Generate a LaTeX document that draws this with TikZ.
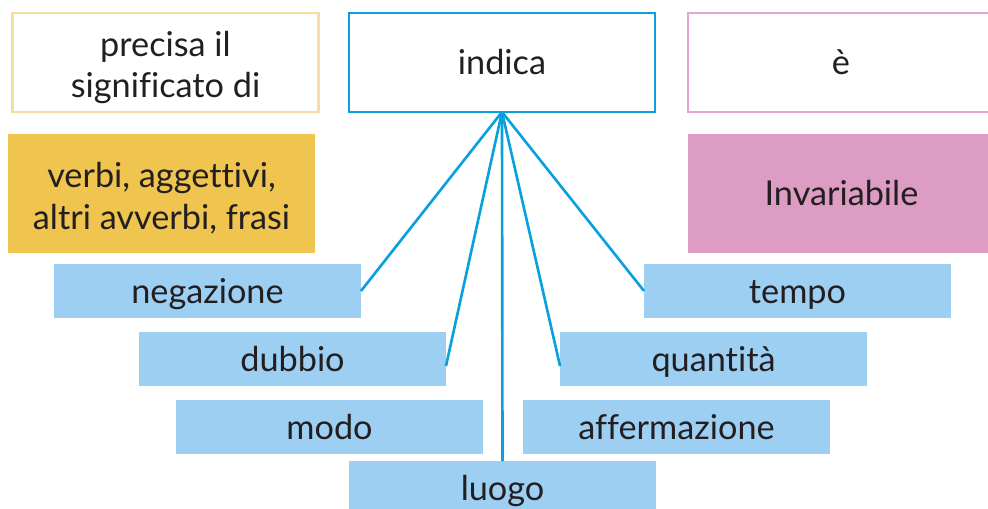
\documentclass[tikz,border=0pt]{standalone}
\usepackage{fontspec}
\setmainfont{Lato}[Ligatures=NoCommon]
\usepackage{tikz}
\definecolor{ink}{HTML}{231F20}
\definecolor{cyanline}{HTML}{0AA0DE}
\definecolor{paleyellow}{HTML}{F8DE9E}
\definecolor{palepink}{HTML}{E2A6CC}
\definecolor{ochre}{HTML}{EFC44F}
\definecolor{rosa}{HTML}{DD9CC3}
\definecolor{skyblue}{HTML}{9DCFF3}
\newcommand{\toppad}{\rule{0pt}{20pt}}

\begin{document}
\begin{tikzpicture}[x=0.02cm,y=-0.02cm]
\tikzstyle{lbl}=[rectangle,inner sep=0pt,outer sep=0pt,text=ink,font=\fontsize{19.5}{23.8}\selectfont]
\tikzstyle{onetext}=[text height=14.5pt,text depth=0.3pt]
\tikzstyle{outbox}=[lbl,line width=1.4pt,minimum width=6.12cm,minimum height=1.98cm,align=center]
\tikzstyle{bigfill}=[lbl,minimum width=6.14cm,minimum height=2.38cm,align=center]
\tikzstyle{item}=[lbl,onetext,fill=skyblue,minimum width=6.14cm,minimum height=1.08cm]
\tikzstyle{link}=[draw=cyanline,line width=1.5pt]
\useasboundingbox (0,0) rectangle (988,509);
\clip (0,0) rectangle (988,509);
% top row
\node [outbox,draw=paleyellow] (precisa) at (165.5,62.5) {\toppad precisa il\\significato di};
\node [outbox,onetext,draw=cyanline] (indica) at (502,62.5) {indica};
\node [outbox,onetext,draw=palepink] (verbo) at (841,62.5) {è};
% second row
\node [bigfill,fill=ochre] (parole) at (161.5,193.5) {\toppad verbi, aggettivi,\\altri avverbi, frasi};
\node [bigfill,onetext,fill=rosa] (invariabile) at (841.5,193.5) {Invariabile};
% kinds
\node [item] (negazione) at (207.5,291) {negazione};
\node [item] (dubbio) at (292.5,359) {dubbio};
\node [item] (modo) at (329.5,427) {modo};
\node [item] (luogo) at (502.5,488) {luogo};
\node [item] (affermazione) at (676.5,427) {affermazione};
\node [item] (quantita) at (713.5,359) {quantità};
\node [item] (tempo) at (797.5,291) {tempo};
% links
\draw [link] (indica.south) -- (negazione.east);
\draw [link] (indica.south) -- ([yshift=-0.14cm]dubbio.east);
\draw [link] (indica.south) -- (luogo.north);
\draw [link] (indica.south) -- ([yshift=-0.14cm]quantita.west);
\draw [link] (indica.south) -- (tempo.west);
\end{tikzpicture}
\end{document}
